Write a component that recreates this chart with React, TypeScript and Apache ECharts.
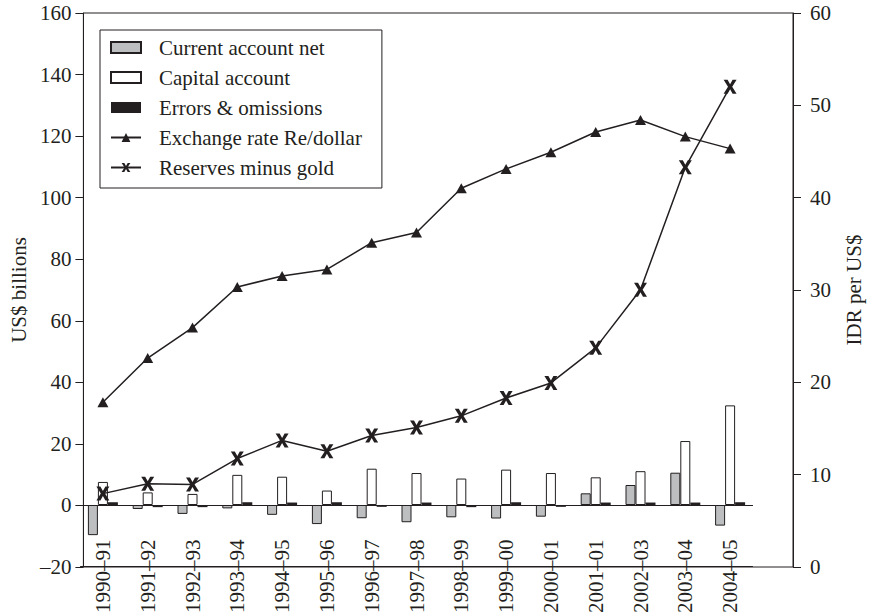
import React, { useEffect, useRef } from "react";
import * as echarts from "echarts";

const categories = ["1990–91","1991–92","1992–93","1993–94","1994–95","1995–96","1996–97","1997–98","1998–99","1999–00","2000–01","2001–01","2002–03","2003–04","2004–05"];
const currentAccount = [-9.8, -1.3, -2.9, -1.1, -3.2, -6.2, -4.3, -5.6, -4.0, -4.4, -3.8, 3.8, 6.5, 10.5, -6.7];
const capitalAccount = [7.5, 4.1, 3.6, 9.8, 9.2, 4.7, 11.8, 10.4, 8.6, 11.5, 10.4, 9.0, 11.0, 20.8, 32.4];
const errorsOmissions = [0.9, -0.7, -0.7, 0.9, 0.8, 0.9, -0.6, 0.8, -0.7, 0.9, -0.6, 0.8, 0.8, 0.8, 0.9];
const exchangeRate = [17.8, 22.6, 25.9, 30.3, 31.5, 32.2, 35.1, 36.2, 41.0, 43.1, 44.9, 47.1, 48.4, 46.6, 45.3];
const reserves = [3.7, 6.9, 6.7, 15.1, 21.0, 17.5, 22.6, 25.2, 29.0, 34.8, 39.7, 51.1, 70.0, 109.8, 136.0];

const INK = "#231f20";
const FONT = "Liberation Serif";
const X_SYMBOL = "path://M0,0 H4 L6.5,4.5 L9,0 H13 L8.6,7 L13,14 H9 L6.5,9.5 L4,14 H0 L4.4,7 Z";

export default function App() {
  const ref = useRef<HTMLDivElement>(null);
  useEffect(() => {
    if (!ref.current) return;
    const chart = echarts.init(ref.current, null, { renderer: "svg" });
    const txt = { fontFamily: FONT, fontSize: 21, color: INK };
    const catAxisBase = {
      gridIndex: 1,
      type: "category",
      data: categories,
      position: "bottom",
      axisLabel: { show: false },
      splitLine: { show: false },
    };
    chart.setOption({
      animation: false,
      backgroundColor: "#fff",
      textStyle: { fontFamily: FONT, color: INK },
      grid: [
        { left: 80.5, right: 77, top: 13, bottom: 49, show: true, borderColor: INK, borderWidth: 1 },
        { left: 80.5, right: 119.5, top: 13, bottom: 49 },
      ],
      legend: {
        left: 100,
        top: 30,
        orient: "vertical",
        itemWidth: 30,
        itemHeight: 11,
        itemGap: 9,
        padding: [7, 20, 10, 10],
        borderColor: INK,
        borderWidth: 1,
        backgroundColor: "#fff",
        textStyle: { ...txt, lineHeight: 21, padding: [0, 0, 0, 13] },
        data: [
          { name: "Current account net", icon: "rect" },
          { name: "Capital account", icon: "rect" },
          { name: "Errors & omissions", icon: "rect" },
          { name: "Exchange rate Re/dollar" },
          { name: "Reserves minus gold" },
        ],
      },
      xAxis: [
        { gridIndex: 0, type: "value", min: 0, max: 1, show: false },
        {
          ...catAxisBase,
          axisLine: { onZero: false, lineStyle: { color: INK, width: 1 } },
          axisTick: { alignWithLabel: true, length: 5, lineStyle: { color: INK, width: 1.3 } },
          axisLabel: { ...txt, show: true, rotate: 90, margin: -27, interval: 0 },
        },
        {
          ...catAxisBase,
          axisLine: { onZero: true, onZeroAxisIndex: 2, lineStyle: { color: INK, width: 1 } },
          axisTick: { length: 5, lineStyle: { color: INK, width: 1.3 } },
        },
        {
          ...catAxisBase,
          axisLine: { onZero: true, onZeroAxisIndex: 2, lineStyle: { color: INK, width: 1 } },
          axisTick: { length: 5, inside: true, lineStyle: { color: INK, width: 1.3 } },
        },
        {
          ...catAxisBase,
          axisLine: { onZero: false, show: false },
          axisTick: { alignWithLabel: true, length: 5, inside: true, lineStyle: { color: INK, width: 1.3 } },
        },
      ],
      yAxis: [
        {
          gridIndex: 0,
          type: "value",
          position: "left",
          min: -20,
          max: 160,
          interval: 20,
          splitLine: { show: false },
          axisLine: { show: true, onZero: false, lineStyle: { color: INK } },
          axisTick: { show: true, length: 8, lineStyle: { color: INK } },
          axisLabel: { ...txt, margin: 12, formatter: (v: number) => String(v).replace("-", "–") },
          name: "US$ billions",
          nameLocation: "middle",
          nameRotate: 90,
          nameGap: 53,
          nameTextStyle: txt,
        },
        {
          gridIndex: 0,
          type: "value",
          position: "right",
          min: 0,
          max: 60,
          interval: 10,
          splitLine: { show: false },
          axisLine: { show: true, onZero: false, lineStyle: { color: INK } },
          axisTick: { show: true, length: 8, lineStyle: { color: INK } },
          axisLabel: { ...txt, margin: 17 },
          name: "IDR per US$",
          nameLocation: "middle",
          nameRotate: 90,
          nameGap: 50,
          nameTextStyle: txt,
        },
        { gridIndex: 1, type: "value", min: -20, max: 160, interval: 20, show: false, splitLine: { show: false }, axisLine: { onZero: false } },
        { gridIndex: 1, type: "value", min: 0, max: 60, interval: 10, show: false, splitLine: { show: false }, axisLine: { onZero: false } },
      ],
      series: [
        {
          name: "Current account net",
          type: "bar",
          xAxisIndex: 1,
          yAxisIndex: 2,
          data: currentAccount,
          barWidth: 10,
          barGap: "0%",
          itemStyle: { color: "#bcbec0", borderColor: INK, borderWidth: 1 },
        },
        {
          name: "Capital account",
          type: "bar",
          xAxisIndex: 1,
          yAxisIndex: 2,
          data: capitalAccount,
          barWidth: 10,
          barGap: "0%",
          itemStyle: { color: "#ffffff", borderColor: INK, borderWidth: 1 },
        },
        {
          name: "Errors & omissions",
          type: "bar",
          xAxisIndex: 1,
          yAxisIndex: 2,
          data: errorsOmissions,
          barWidth: 10,
          barGap: "0%",
          itemStyle: { color: INK },
        },
        {
          name: "Exchange rate Re/dollar",
          type: "line",
          xAxisIndex: 1,
          yAxisIndex: 3,
          data: exchangeRate,
          symbol: "triangle",
          symbolSize: [11, 10],
          lineStyle: { color: INK, width: 1.5 },
          itemStyle: { color: INK },
          z: 5,
        },
        {
          name: "Reserves minus gold",
          type: "line",
          xAxisIndex: 1,
          yAxisIndex: 2,
          data: reserves,
          symbol: X_SYMBOL,
          symbolSize: [13, 14],
          lineStyle: { color: INK, width: 1.5 },
          itemStyle: { color: INK },
          z: 5,
        },
      ],
    });
    return () => chart.dispose();
  }, []);
  return <div ref={ref} style={{ width: 872, height: 616, position: "absolute", left: 0, top: 0 }} />;
}
